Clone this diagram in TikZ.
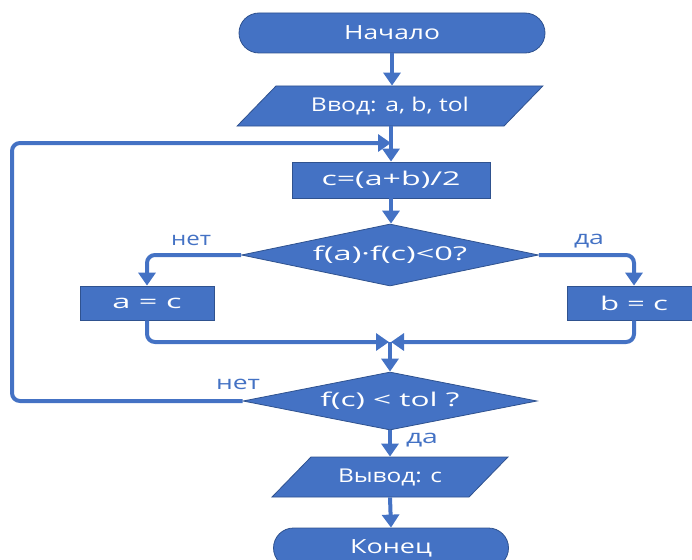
\documentclass[tikz,border=0pt]{standalone}
\usepackage{fontspec}
\usepackage{graphicx}
\setmainfont{Open Sans}
\usetikzlibrary{shapes.geometric,shapes.misc,arrows.meta}
\definecolor{fillblue}{HTML}{4472C4}
\definecolor{edgeblue}{HTML}{2F528F}
\definecolor{lineblue}{HTML}{4472C4}
\newcommand{\stretchtext}[2]{\resizebox{#1pt}{\height}{#2}}
\tikzset{
  base/.style={fill=fillblue,draw=edgeblue,line width=0.8pt,text=white,inner sep=0pt,font=\fontsize{19}{21}\selectfont},
  term/.style={base,rounded rectangle,minimum height=40pt},
  io/.style={base,trapezium,trapezium left angle=33.69,trapezium right angle=146.31,trapezium stretches=true,minimum height=40pt},
  proc/.style={base,rectangle},
  decide/.style={base,diamond,aspect=4.8},
  conn/.style={draw=lineblue,line width=4pt,rounded corners=8pt,-{Triangle[width=17pt,length=13pt]}},
  lbl/.style={text=lineblue,font=\fontsize{19}{21}\selectfont,inner sep=0pt}
}
\begin{document}
\begin{tikzpicture}[x=1pt,y=-1pt]
\useasboundingbox (0,0) rectangle (692,559);
\node[term,minimum width=306pt,font=\fontsize{19.5}{21}\selectfont] (start) at (392,33) {\stretchtext{96}{Начало}};
\node[io,minimum width=306pt] (inp) at (390,106) {\stretchtext{158}{Ввод: a, b, tol}};
\node[proc,minimum width=198pt,minimum height=36pt] (mid) at (391,180) {\stretchtext{139}{c=(a+b)/2}};
\node[decide,minimum width=297pt,minimum height=62pt] (d1) at (390,255) {\stretchtext{154}{f(a)·f(c)<0?}};
\node[proc,minimum width=134pt,minimum height=34pt] (ac) at (147,303) {\stretchtext{69}{a = c}};
\node[proc,minimum width=134pt,minimum height=34pt] (bc) at (634,303) {\stretchtext{68}{b = c}};
\coordinate (join) at (390,342);
\node[decide,minimum width=294pt,minimum height=58pt] (d2) at (390,401) {\stretchtext{139}{f(c) < tol ?}};
\node[io,minimum width=236pt,minimum height=40pt] (out) at (390,477) {\stretchtext{104}{Вывод: c}};
\node[term,minimum width=235pt,font=\fontsize{19.5}{21}\selectfont] (end) at (391,548) {\stretchtext{82}{Конец}};
\coordinate (loopin) at (391,143);
% main flow
\draw[conn] (start.south) -- (start.south |- inp.north);
\draw[conn] (inp.south -| mid.north) -- (mid.north);
\draw[conn] (mid.south) -- (mid.south |- d1.north);
% branches
\draw[conn] (d1.west) -- (ac.north |- d1.west) -- (ac.north);
\draw[conn] (d1.east) -- (bc.north |- d1.east) -- (bc.north);
\node[lbl] (l1) at (191,240) {\stretchtext{40}{нет}};
\node[lbl] (l2) at (589,241) {\stretchtext{30}{да}};
% merge
\draw[conn] (ac.south) -- (ac.south |- join) -- ([xshift=-1pt]join);
\draw[conn] (bc.south) -- (bc.south |- join) -- ([xshift=1pt]join);
\draw[conn] (join) -- (d2.north);
% loop back
\draw[conn] (d2.west) -- (12,401) -- (12,143) -- (loopin);
\node[lbl] (l3) at (238,384) {\stretchtext{44}{нет}};
% exit
\draw[conn] (d2.south) -- (out.north -| d2.south);
\node[lbl] (l4) at (422,440) {\stretchtext{32}{да}};
\draw[conn] (out.south) -- (end.north);
\end{tikzpicture}
\end{document}
